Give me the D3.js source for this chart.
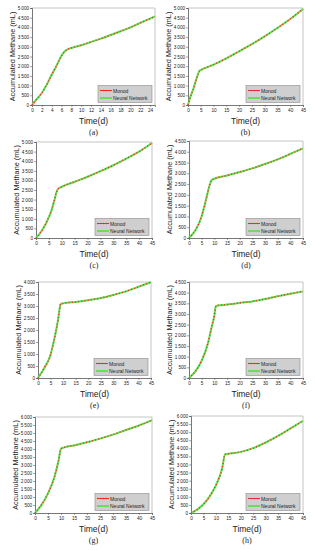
<!DOCTYPE html>
<html>
<head>
<meta charset="utf-8">
<script src="https://cdn.jsdelivr.net/npm/d3@7"></script>
<style>
  body { margin: 0; background: #fff; }
  svg { display: block; }
</style>
</head>
<body>
<svg id="chart" width="315" height="550"></svg>
<script>
// values (days, accumulated methane mL)
const tA = [0, 1, 2, 3, 4, 5, 6, 6.7, 7.4, 8, 10, 12, 14, 16, 18, 20, 22, 24, 25];
const vA = [0, 310, 620, 1050, 1560, 2030, 2540, 2770, 2890, 2940, 3080, 3250, 3420, 3610, 3800, 4000, 4230, 4450, 4570];

const tB = [0, 1, 2, 3, 4, 4.5, 5, 10, 15, 20, 25, 30, 35, 40, 45];
const vB = [0, 450, 790, 1220, 1615, 1760, 1800, 2080, 2400, 2770, 3140, 3540, 3970, 4430, 4950];

const tC = [0, 2.5, 5, 6, 7, 8, 8.5, 9, 10, 15, 20, 25, 30, 35, 40, 45];
const vC = [0, 430, 1090, 1430, 1900, 2410, 2550, 2600, 2670, 2930, 3190, 3480, 3790, 4140, 4500, 4950];

const tD = [0, 2.5, 5, 6, 7, 8, 9, 10, 15, 20, 25, 30, 35, 40, 45];
const vD = [0, 357, 1010, 1440, 1910, 2400, 2690, 2750, 2900, 3060, 3230, 3430, 3650, 3900, 4160];

const tE = [0, 2.5, 5, 6, 7, 8, 8.5, 9, 10, 15, 20, 25, 30, 35, 40, 45];
const vE = [0, 420, 970, 1390, 1875, 2430, 2800, 3080, 3110, 3170, 3240, 3330, 3460, 3610, 3800, 3990];

const tF = [0, 2.5, 5, 7.5, 9, 10, 10.5, 11, 15, 20, 25, 30, 35, 40, 45];
const vF = [0, 310, 810, 1640, 2420, 2920, 3330, 3390, 3440, 3520, 3590, 3700, 3830, 3950, 4060];

const tG = [0, 2.5, 5, 7.5, 9, 10, 11, 15, 20, 25, 30, 35, 40, 45];
const vG = [0, 510, 1230, 2260, 3230, 4010, 4090, 4220, 4420, 4650, 4900, 5190, 5470, 5800];

const tH = [0, 2.5, 5, 7.5, 10, 12.5, 13.7, 15, 20, 25, 30, 35, 40, 45];
const vH = [0, 210, 540, 1030, 1710, 2750, 3630, 3660, 3780, 4010, 4360, 4770, 5230, 5700];

const seriesNames = ['Monod', 'Neural Network'];
const panelLabels = ['(a)', '(b)', '(c)', '(d)', '(e)', '(f)', '(g)', '(h)'];
const xMaxes = [25, 45, 45, 45, 45, 45, 45, 45];
const xSteps = [2, 5, 5, 5, 5, 5, 5, 5];
const yMaxes = [5000, 5000, 5000, 4500, 4000, 4500, 6000, 6000];

const times = [tA, tB, tC, tD, tE, tF, tG, tH];
const values = [vA, vB, vC, vD, vE, vF, vG, vH];

// plot boxes [left, top, right, bottom] for each panel
const boxes = [
  [32, 8, 155, 105], [188, 8, 303, 105],
  [36, 142, 152, 238], [189, 141, 303, 238],
  [38, 282, 151, 378], [189, 282, 303, 378],
  [35, 417, 152, 513], [191, 416, 303, 513]
];

const RED = '#ee2a2a';
const GREEN = '#5fe04a';
const SANS = 'Liberation Sans, Arial, sans-serif';
const fmt = d3.formatLocale({decimal: '.', thousands: '\u2009', grouping: [3], currency: ['', '']}).format(',d');

const svg = d3.select('#chart');

panelLabels.forEach((label, i) => {
  const [l, t, r, b] = boxes[i];
  const x = d3.scaleLinear().domain([0, xMaxes[i]]).range([l, r]);
  const y = d3.scaleLinear().domain([0, yMaxes[i]]).range([b, t]);
  const pts = times[i].map((d, k) => [d, values[i][k]]);
  const g = svg.append('g');

  // frame (top/right light)
  g.append('path')
    .attr('d', `M${l},${t}H${r}V${b}`)
    .attr('fill', 'none')
    .attr('stroke', '#b5b5b5')
    .attr('stroke-width', 0.8);

  const yAxis = g.append('g')
    .attr('transform', `translate(${l},0)`)
    .call(d3.axisLeft(y).tickValues(d3.range(0, yMaxes[i] + 1, 500)).tickSize(1.8).tickPadding(1).tickFormat(fmt));
  const xAxis = g.append('g')
    .attr('transform', `translate(0,${b})`)
    .call(d3.axisBottom(x).tickValues(d3.range(0, xMaxes[i] + 0.1, xSteps[i])).tickSize(1.8).tickPadding(1.5));
  [xAxis, yAxis].forEach(a => {
    a.select('.domain').attr('stroke', '#555').attr('stroke-width', 0.8);
    a.selectAll('.tick line').attr('stroke', '#555').attr('stroke-width', 0.6);
    a.selectAll('text').attr('font-family', SANS)
      .attr('font-size', 4.7).attr('fill', '#222');
  });

  const line = d3.line().x(d => x(d[0])).y(d => y(d[1])).curve(d3.curveMonotoneX);

  // Neural Network (green) under Monod (red, dotted look)
  g.append('path').datum(pts)
    .attr('d', line).attr('fill', 'none')
    .attr('stroke', GREEN).attr('stroke-width', 2);
  g.append('path').datum(pts)
    .attr('d', line).attr('fill', 'none')
    .attr('stroke', RED).attr('stroke-width', 1.4)
    .attr('stroke-dasharray', '1,2.2');

  // axis titles
  g.append('text')
    .attr('transform', `translate(${l - 20},${(t + b) / 2}) rotate(-90)`)
    .attr('text-anchor', 'middle').attr('dominant-baseline', 'central')
    .attr('font-family', SANS)
    .attr('font-size', 7.3).attr('fill', '#222')
    .text('Accumulated Methane (mL)');
  g.append('text')
    .attr('x', (l + r) / 2).attr('y', b + 16)
    .attr('text-anchor', 'middle').attr('dominant-baseline', 'central')
    .attr('font-family', SANS)
    .attr('font-size', 8.5).attr('fill', '#222')
    .text('Time(d)');
  g.append('text')
    .attr('x', (l + r) / 2).attr('y', b + 27)
    .attr('text-anchor', 'middle').attr('dominant-baseline', 'central')
    .attr('font-family', 'Liberation Serif, Times New Roman, serif')
    .attr('font-size', 8).attr('fill', '#222')
    .text(label);

  // legend
  const lw = 54, lh = 17;
  const lx = r - 3 - lw, ly = b - 2.5 - lh;
  const leg = g.append('g').attr('transform', `translate(${lx},${ly})`);
  leg.append('rect').attr('width', lw).attr('height', lh)
    .attr('fill', '#cfcfcf').attr('stroke', '#8a8a8a').attr('stroke-width', 0.6);
  seriesNames.forEach((name, k) => {
    const yy = 5 + k * 7.5;
    if (k === 0) {
      leg.append('line').attr('x1', 2).attr('x2', 14).attr('y1', yy).attr('y2', yy)
        .attr('stroke', RED).attr('stroke-width', 1);
      leg.selectAll(null).data(d3.range(2.5, 14, 3)).enter().append('circle')
        .attr('cx', d => d).attr('cy', yy).attr('r', 0.7).attr('fill', RED);
    } else {
      leg.append('line').attr('x1', 2).attr('x2', 14).attr('y1', yy).attr('y2', yy)
        .attr('stroke', GREEN).attr('stroke-width', 1.8);
    }
    leg.append('text').attr('x', 15).attr('y', yy)
      .attr('dominant-baseline', 'central')
      .attr('font-family', SANS)
      .attr('font-size', 5).attr('fill', '#222')
      .text(name);
  });
});
</script>
</body>
</html>
